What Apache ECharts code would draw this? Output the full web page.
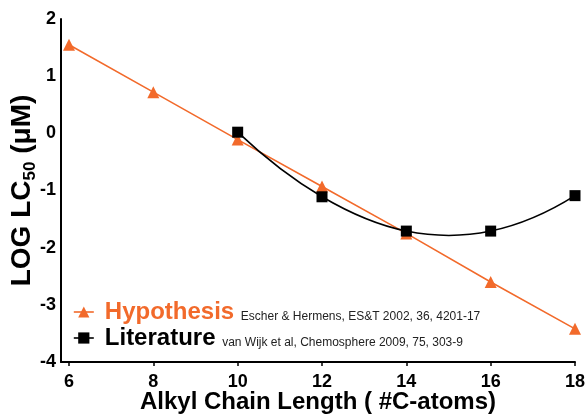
<!DOCTYPE html>
<html>
<head>
<meta charset="utf-8">
<script src="https://cdn.jsdelivr.net/npm/echarts@6/dist/echarts.min.js"></script>
<style>
  html, body { margin: 0; padding: 0; background: #fff; }
  #chart { width: 585px; height: 414px; }
</style>
</head>
<body>
<div id="chart"></div>
<script>
// Alkyl chain length (number of C atoms)
const chainLengths = [6, 8, 10, 12, 14, 16, 18];
// Predicted LOG LC50 (µM) — Escher & Hermens
const hypothesisLogLC50 = [1.55, 0.72, -0.11, -0.93, -1.75, -2.60, -3.42];
// Measured LOG LC50 (µM) — van Wijk et al
const literatureChain = [10, 12, 14, 16, 18];
const literatureLogLC50 = [0.02, -1.11, -1.71, -1.71, -1.09];
// Axis tick labels
const xTickValues = [6, 8, 10, 12, 14, 16, 18];

const ORANGE = '#f26a2b';
const FONT = 'Liberation Sans, Arial, sans-serif';

const chart = echarts.init(document.getElementById('chart'), null, { renderer: 'canvas' });

const pairs = (xs, ys) => xs.map((x, i) => [x, ys[i]]);

// Smooth trend curve through the measured points: cubic Hermite segments with
// central-difference tangents, ends continued quadratically.
function renderLiteratureCurve(params, api) {
  const n = literatureChain.length;
  const i = params.dataIndex;
  if (i >= n - 1) return null;
  const p = k => api.coord([literatureChain[k], literatureLogLC50[k]]);
  const pt = k => {
    if (k < 0) {
      const a = p(0), b = p(1), c = p(2);
      return [3 * a[0] - 3 * b[0] + c[0], 3 * a[1] - 3 * b[1] + c[1]];
    }
    if (k > n - 1) {
      const a = p(n - 1), b = p(n - 2), c = p(n - 3);
      return [3 * a[0] - 3 * b[0] + c[0], 3 * a[1] - 3 * b[1] + c[1]];
    }
    return p(k);
  };
  const p0 = pt(i - 1), p1 = pt(i), p2 = pt(i + 1), p3 = pt(i + 2);
  return {
    type: 'bezierCurve',
    shape: {
      x1: p1[0], y1: p1[1],
      x2: p2[0], y2: p2[1],
      cpx1: p1[0] + (p2[0] - p0[0]) / 6, cpy1: p1[1] + (p2[1] - p0[1]) / 6,
      cpx2: p2[0] - (p3[0] - p1[0]) / 6, cpy2: p2[1] - (p3[1] - p1[1]) / 6
    },
    style: { stroke: '#000', lineWidth: 1.6, fill: null }
  };
}

const legendRich = (nameColor) => ({
  n: { fontFamily: FONT, fontSize: 24, fontWeight: 'bold', color: nameColor, lineHeight: 26 },
  c: { fontFamily: FONT, fontSize: 12, fontWeight: 'normal', color: '#222', height: 17, lineHeight: 17, verticalAlign: 'bottom' }
});

chart.setOption({
  animation: false,
  backgroundColor: '#fff',
  grid: { left: 61, right: 10, top: 19, bottom: 52, containLabel: false, outerBoundsMode: 'none' },
  xAxis: {
    type: 'value',
    min: 5.81,
    max: 18,
    name: 'Alkyl Chain Length ( #C-atoms)',
    nameLocation: 'middle',
    nameGap: 28,
    nameMoveOverlap: false,
    nameTextStyle: { fontFamily: FONT, fontSize: 24, fontWeight: 'bold', color: '#000' },
    axisLine: { show: true, onZero: false, lineStyle: { color: '#000', width: 2 } },
    axisTick: { show: true, length: 4, customValues: xTickValues, lineStyle: { color: '#000', width: 1.5 } },
    axisLabel: {
      customValues: xTickValues,
      margin: 11,
      fontFamily: FONT, fontSize: 18, fontWeight: 'bold', color: '#000'
    },
    splitLine: { show: false }
  },
  yAxis: {
    type: 'value',
    min: -4,
    max: 2,
    interval: 1,
    name: '{a|LOG LC}{b|50}{a| (μM)}',
    nameLocation: 'middle',
    nameRotate: 90,
    nameGap: 25,
    nameMoveOverlap: false,
    nameTextStyle: {
      fontFamily: FONT, fontWeight: 'bold', color: '#000',
      rich: {
        a: { fontFamily: FONT, fontSize: 28, fontWeight: 'bold', color: '#000', lineHeight: 28 },
        b: { fontFamily: FONT, fontSize: 17, fontWeight: 'bold', color: '#000', height: 11, lineHeight: 11, verticalAlign: 'bottom' }
      }
    },
    axisLine: { show: true, onZero: false, lineStyle: { color: '#000', width: 2 } },
    axisTick: { show: false },
    axisLabel: { margin: 5, fontFamily: FONT, fontSize: 18, fontWeight: 'bold', color: '#000' },
    splitLine: { show: false }
  },
  legend: [
    {
      data: ['Hypothesis'],
      left: 73, top: 300, padding: 0,
      itemWidth: 20, itemHeight: 14, itemGap: 0,
      lineStyle: { color: ORANGE, width: 1.6, opacity: 1 },
      formatter: name => '{n|' + name + ' }{c|Escher & Hermens, ES&T 2002, 36, 4201-17}',
      textStyle: { padding: [0, 0, 0, 6], rich: legendRich(ORANGE) }
    },
    {
      data: ['Literature'],
      left: 73, top: 326, padding: 0,
      itemWidth: 20, itemHeight: 14, itemGap: 0,
      lineStyle: { color: '#000', width: 1.6, opacity: 1 },
      formatter: name => '{n|' + name + ' }{c|van Wijk et al, Chemosphere 2009, 75, 303-9}',
      textStyle: { padding: [0, 0, 0, 6], rich: legendRich('#000') }
    }
  ],
  series: [
    {
      name: 'Hypothesis',
      type: 'line',
      data: pairs(chainLengths, hypothesisLogLC50),
      symbol: 'triangle',
      symbolSize: 12,
      itemStyle: { color: ORANGE },
      lineStyle: { color: ORANGE, width: 1.6 },
      z: 2
    },
    {
      type: 'custom',
      data: pairs(literatureChain, literatureLogLC50),
      encode: { x: 0, y: 1 },
      renderItem: renderLiteratureCurve,
      silent: true,
      z: 3
    },
    {
      name: 'Literature',
      type: 'line',
      data: pairs(literatureChain, literatureLogLC50),
      symbol: 'rect',
      symbolSize: 11,
      itemStyle: { color: '#000' },
      lineStyle: { color: '#000', width: 1.6, opacity: 0 },
      z: 4
    }
  ]
});
</script>
</body>
</html>
